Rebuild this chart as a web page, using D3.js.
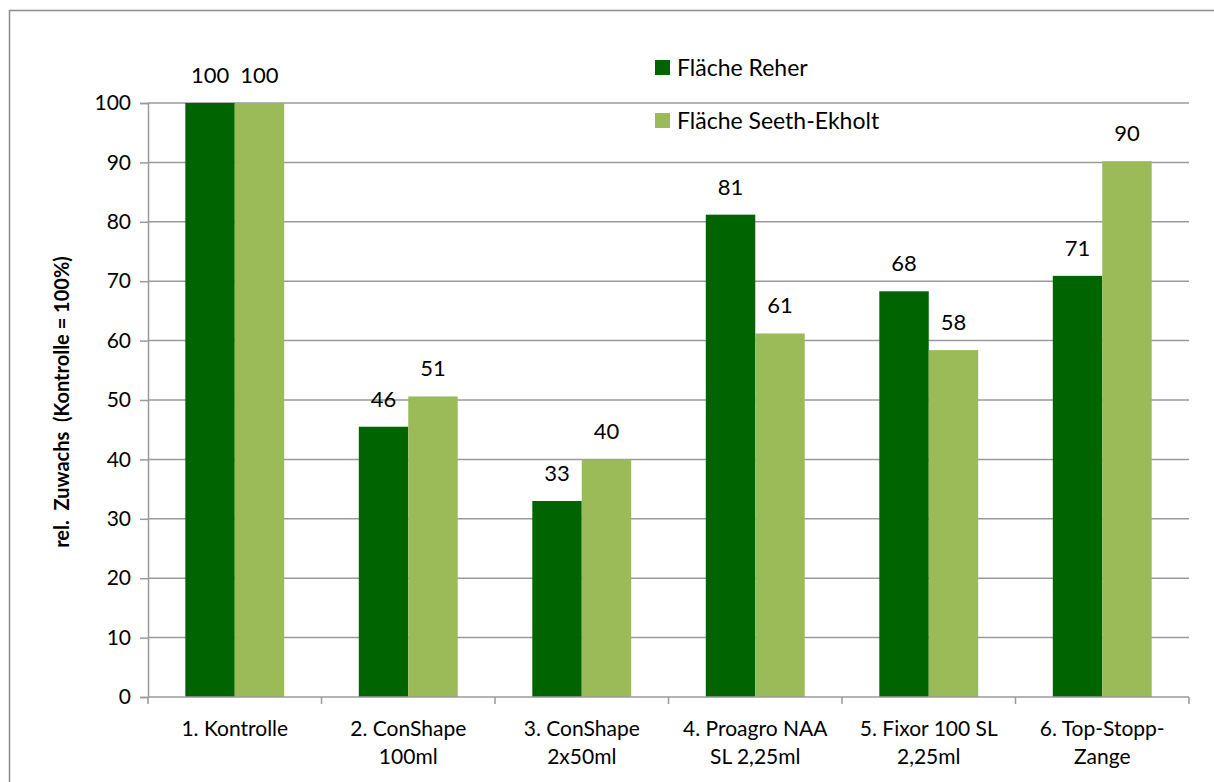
<!DOCTYPE html>
<html>
<head>
<meta charset="utf-8">
<script src="https://cdn.jsdelivr.net/npm/d3@7"></script>
<style>
  body { margin: 0; background: #fff; }
  svg { display: block; font-family: Lato, "Open Sans", sans-serif; }
</style>
</head>
<body>
<div id="chart"></div>
<script>
// Chart data
const categories = [
  ['1. Kontrolle'],
  ['2. ConShape', '100ml'],
  ['3. ConShape', '2x50ml'],
  ['4. Proagro NAA', 'SL 2,25ml'],
  ['5. Fixor 100 SL', '2,25ml'],
  ['6. Top-Stopp-', 'Zange']
];
const seriesNames = ['Fläche Reher', 'Fläche Seeth-Ekholt'];
const reher = [100, 45.5, 33, 81.2, 68.3, 70.9];
const seeth = [100, 50.6, 40, 61.2, 58.4, 90.2];
const yTicks = [0, 10, 20, 30, 40, 50, 60, 70, 80, 90, 100];

const colors = ['#006400', '#9BBB59'];
const W = 1214, H = 782;
const plot = { left: 148, right: 1189, top: 103, bottom: 697 };

const svg = d3.select('#chart').append('svg').attr('width', W).attr('height', H);

// outer chart border
svg.append('rect').attr('x', 9.5).attr('y', 10.5).attr('width', 1220).attr('height', 800)
  .attr('fill', 'none').attr('stroke', '#8c8c8c').attr('stroke-width', 1.5);

const x0 = d3.scaleBand().domain(d3.range(categories.length))
  .range([plot.left, plot.right]).paddingInner(0.43).paddingOuter(0.215);
const x1 = d3.scaleBand().domain([0, 1]).range([0, x0.bandwidth()]);
const y = d3.scaleLinear().domain([0, 100]).range([plot.bottom, plot.top]);

// gridlines
svg.append('g').selectAll('line').data(yTicks.filter(t => t > 0)).enter().append('line')
  .attr('x1', plot.left).attr('x2', plot.right)
  .attr('y1', d => y(d)).attr('y2', d => y(d))
  .attr('stroke', '#9a9a9a').attr('stroke-width', 1.5);

// bars
const series = [reher, seeth];
const groups = svg.append('g').selectAll('g').data(categories).enter().append('g')
  .attr('transform', (d, i) => `translate(${x0(i)},0)`);
groups.each(function(d, i) {
  const g = d3.select(this);
  series.forEach((vals, s) => {
    g.append('rect').attr('x', x1(s)).attr('width', x1.bandwidth())
      .attr('y', y(vals[i])).attr('height', y(0) - y(vals[i]))
      .attr('fill', colors[s]);
    g.append('text').attr('x', x1(s) + x1.bandwidth() / 2).attr('y', y(vals[i]) - 20)
      .attr('text-anchor', 'middle').attr('font-size', 22).attr('fill', '#000')
      .text(Math.round(vals[i]));
  });
});

// y axis
const yAxis = d3.axisLeft(y).tickValues(yTicks).tickSize(8).tickPadding(9);
const ya = svg.append('g').attr('transform', `translate(${plot.left},0)`).call(yAxis);
ya.select('.domain').attr('stroke', '#9a9a9a').attr('stroke-width', 1.5);
ya.selectAll('.tick line').attr('stroke', '#9a9a9a').attr('stroke-width', 1.5);
ya.selectAll('.tick text').attr('font-size', 21).attr('fill', '#000')
  .attr('font-family', 'Lato, "Open Sans", sans-serif');

// x axis
const xa = svg.append('g').attr('transform', `translate(0,${plot.bottom})`);
xa.append('line').attr('x1', plot.left).attr('x2', plot.right)
  .attr('stroke', '#9a9a9a').attr('stroke-width', 1.5);
const step = (plot.right - plot.left) / categories.length;
xa.selectAll('.tk').data(d3.range(categories.length + 1)).enter().append('line')
  .attr('x1', i => plot.left + i * step).attr('x2', i => plot.left + i * step)
  .attr('y1', 0).attr('y2', 7).attr('stroke', '#9a9a9a').attr('stroke-width', 1.5);
categories.forEach((lines, i) => {
  const t = xa.append('text').attr('text-anchor', 'middle').attr('font-size', 21)
    .attr('fill', '#000').attr('transform', `translate(${x0(i) + x0.bandwidth() / 2},39)`);
  lines.forEach((l, k) => t.append('tspan').attr('x', 0).attr('dy', k === 0 ? 0 : 28).text(l));
});

// y axis title
svg.append('text').attr('transform', 'translate(69,402) rotate(-90)')
  .attr('text-anchor', 'middle').attr('font-size', 20).attr('font-weight', 'bold')
  .attr('fill', '#000').attr('xml:space', 'preserve')
  .text('rel.  Zuwachs  (Kontrolle = 100%)');

// legend
const legend = svg.append('g').attr('transform', 'translate(655,60)');
seriesNames.forEach((n, i) => {
  const g = legend.append('g').attr('transform', `translate(0,${i * 53})`);
  g.append('rect').attr('width', 15).attr('height', 15).attr('fill', colors[i]);
  g.append('text').attr('x', 22).attr('y', 16).attr('font-size', 23).attr('fill', '#000').text(n);
});
</script>
</body>
</html>
